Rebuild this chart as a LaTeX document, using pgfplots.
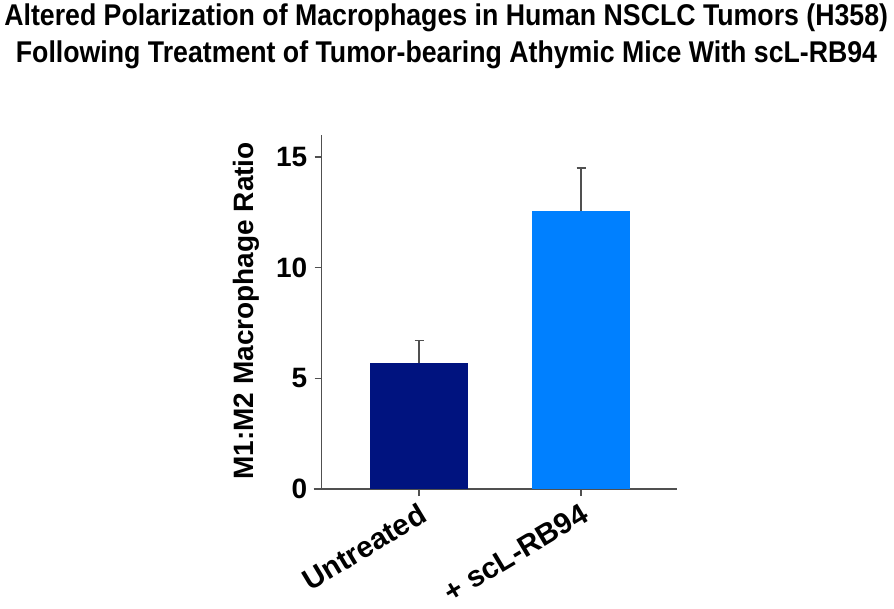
\documentclass[border=0pt]{standalone}
\usepackage{pgfplots}
\pgfplotsset{compat=1.18}
\usepackage{fontspec}
\setmainfont{Liberation Sans}
\newfontfamily\titlefont[FakeStretch=0.89]{Liberation Sans}
\definecolor{navybar}{HTML}{00137F}
\definecolor{lightbar}{HTML}{0080FF}
\definecolor{axgray}{HTML}{505050}
\begin{document}
\begin{tikzpicture}
\useasboundingbox (-321.7pt,-119pt) rectangle (572.3pt,489pt);
\begin{axis}[
  at={(0pt,0pt)}, anchor=south west,
  scale only axis, width=355.3pt, height=354pt,
  xmin=-0.6006, xmax=1.592, ymin=0, ymax=16,
  axis lines*=left,
  axis line style={axgray, line width=1.6pt},
  x axis line style={shorten <=-8pt},
  ytick={0,5,10,15},
  xtick={0,1},
  xticklabels={Untreated,+ scL-RB94},
  tick style={axgray, line width=1.4pt},
  tick align=outside,
  major tick length=7pt,
  /pgf/number format/assume math mode=true,
  yticklabel style={font=\bfseries\fontsize{28}{30}\selectfont, xshift=-4pt},
  xticklabel style={font=\bfseries\fontsize{29.5}{31}\selectfont, rotate=31, anchor=north east, xshift=-1pt, yshift=-1pt},
  ylabel={M1:M2 Macrophage Ratio},
  ylabel style={font=\bfseries\fontsize{28}{30}\selectfont, at={(axis description cs:-0.211,0.503)}, anchor=center},
  ybar, bar width=0.605, bar shift=0pt,
  error bars/error bar style={axgray, line width=1.4pt},
  error bars/error mark options={axgray, line width=1.4pt, mark size=4.5pt, rotate=90},
  clip=false,
]
\addplot[fill=navybar, draw=none, error bars/.cd, y dir=plus, y explicit]
  coordinates {(0,5.71) +- (0,0.99)};
\addplot[fill=lightbar, draw=none, error bars/.cd, y dir=plus, y explicit]
  coordinates {(1,12.56) +- (0,1.95)};
\end{axis}
\node[font=\titlefont\bfseries\fontsize{30}{32}\selectfont, anchor=base, inner sep=0pt] at (124.5pt,463pt)
  {Altered Polarization of Macrophages in Human NSCLC Tumors (H358)};
\node[font=\titlefont\bfseries\fontsize{30}{32}\selectfont, anchor=base, inner sep=0pt] at (124.8pt,426pt)
  {Following Treatment of Tumor-bearing Athymic Mice With scL-RB94};
\end{tikzpicture}
\end{document}
